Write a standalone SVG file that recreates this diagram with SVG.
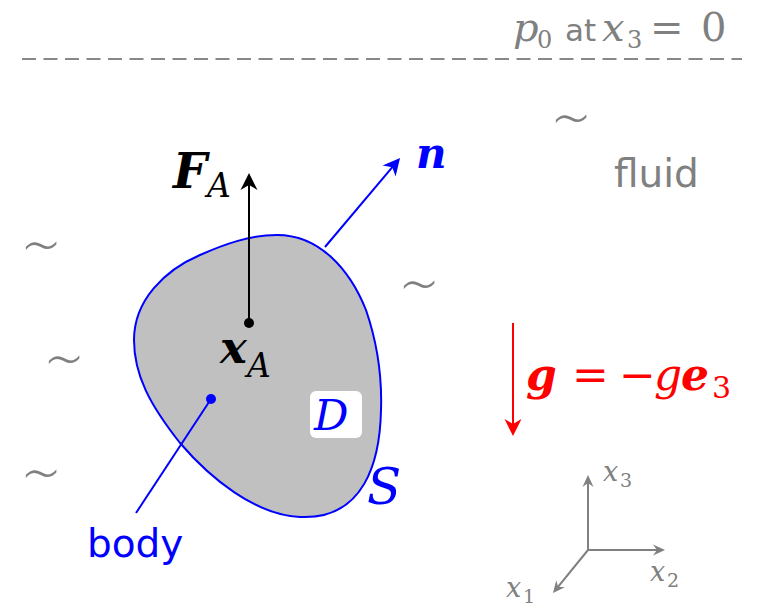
<svg xmlns="http://www.w3.org/2000/svg" width="760" height="606" viewBox="0 0 760 606">
<defs>
<style>
.m{font-family:"DejaVu Serif",serif;font-style:italic}
.u{font-family:"DejaVu Serif",serif;font-style:normal}
.b{font-weight:bold}
.s{font-family:"DejaVu Sans",sans-serif}
.gray{fill:#808080}
.tl{font-family:"DejaVu Sans",sans-serif;font-weight:200;font-size:64px;fill:#808080;text-anchor:middle}
</style>
<marker id="ak" markerUnits="userSpaceOnUse" orient="auto" markerWidth="22" markerHeight="22" viewBox="-20 -10 22 20" refX="-10" refY="0"><path d="M0,0 L-17,-8.5 L-12,0 L-17,8.5 Z" fill="#000"/></marker>
<marker id="ab" markerUnits="userSpaceOnUse" orient="auto" markerWidth="22" markerHeight="22" viewBox="-20 -10 22 20" refX="-10" refY="0"><path d="M0,0 L-17,-8.5 L-12,0 L-17,8.5 Z" fill="#0000ff"/></marker>
<marker id="ar" markerUnits="userSpaceOnUse" orient="auto" markerWidth="22" markerHeight="22" viewBox="-20 -10 22 20" refX="-10" refY="0"><path d="M0,0 L-17,-8.5 L-12,0 L-17,8.5 Z" fill="#ff0000"/></marker>
<marker id="ag" markerUnits="userSpaceOnUse" orient="auto" markerWidth="16" markerHeight="16" viewBox="-14 -7 16 14" refX="-7" refY="0"><path d="M0,0 L-12,-5.5 L-8,0 L-12,5.5 Z" fill="#808080"/></marker>
</defs>
<rect width="760" height="606" fill="#fff"/>

<g id="surface">
<line x1="22" y1="59" x2="742" y2="59" stroke="#888" stroke-width="2" stroke-dasharray="14 7.5"/>
<text class="gray" font-size="40" y="41"><tspan class="m" x="513">p</tspan><tspan class="u" font-size="24" x="537" y="48">0</tspan><tspan class="s" font-size="31" x="565" y="41">at</tspan><tspan class="m" x="602">x</tspan><tspan class="u" font-size="24" x="627" y="48">3</tspan><tspan class="u" x="650" y="41">=</tspan><tspan class="u" x="701">0</tspan></text>
</g>

<g id="fluid">
<text class="s gray" font-size="39" x="614" y="187">fluid</text>
<text class="tl" x="571" y="141">∼</text>
<text class="tl" x="41" y="268">∼</text>
<text class="tl" x="64" y="382">∼</text>
<text class="tl" x="41" y="496">∼</text>
<text class="tl" x="419" y="307">∼</text>
</g>

<g id="body">
<path d="M277,235 C320,235 350,270 366,310 C378,345 382,380 381,410 C380,460 365,520 300,517 C255,515 210,478 180,443 C150,405 134,375 134,340 C134,300 165,270 200,255 C225,244 250,235 277,235 Z" fill="#c0c0c0" stroke="#0000ff" stroke-width="2"/>
<rect x="310" y="391" width="52" height="47" rx="6" fill="#fff"/>
<text class="m" font-size="43" fill="#0000ff" x="314" y="430">D</text>
<text class="m" font-size="50" fill="#0000ff" x="367" y="504">S</text>
<text class="s" font-size="39" fill="#0000ff" x="87" y="557">body</text>
</g>

<g id="point-A">
<circle cx="249" cy="323" r="5" fill="#000"/>
<text class="m b" font-size="45" x="220" y="363">x</text>
<text class="m" font-size="33" x="247" y="377">A</text>
<text class="m b" font-size="48" x="173" y="188">F</text>
<text class="m" font-size="33" x="207" y="197">A</text>
</g>

<g id="normal">
<text class="m b" font-size="42" fill="#0000ff" x="416" y="168">n</text>
</g>

<g id="gravity">
<text fill="#ff0000" font-size="44" y="390"><tspan class="m b" x="526">g</tspan><tspan class="u" x="572">=</tspan><tspan class="u" x="619">−</tspan><tspan class="m" x="654">g</tspan><tspan class="m b" x="681">e</tspan><tspan class="u" font-size="30" x="712" y="398">3</tspan></text>
</g>

<g id="axes">
<text class="m gray" font-size="27" x="603" y="481">x</text><text class="u gray" font-size="19" x="620" y="487">3</text>
<text class="m gray" font-size="27" x="650" y="581">x</text><text class="u gray" font-size="19" x="667" y="587">2</text>
<text class="m gray" font-size="27" x="506" y="597">x</text><text class="u gray" font-size="19" x="523" y="603">1</text>
</g>

<g id="connectors">
<line x1="249" y1="323" x2="249" y2="183" stroke="#000" stroke-width="2" marker-end="url(#ak)"/>
<line x1="325" y1="247" x2="393.6" y2="165.6" stroke="#0000ff" stroke-width="2" marker-end="url(#ab)"/>
<line x1="211" y1="399" x2="136" y2="513" stroke="#0000ff" stroke-width="2"/>
<circle cx="211" cy="399" r="5" fill="#0000ff"/>
<line x1="513" y1="323" x2="513" y2="426" stroke="#ff0000" stroke-width="2" marker-end="url(#ar)"/>
<line x1="588" y1="550" x2="588" y2="482" stroke="#808080" stroke-width="2" marker-end="url(#ag)"/>
<line x1="588" y1="550" x2="658" y2="550" stroke="#808080" stroke-width="2" marker-end="url(#ag)"/>
<line x1="588" y1="550" x2="557.4" y2="587.6" stroke="#808080" stroke-width="2" marker-end="url(#ag)"/>
</g>
</svg>
